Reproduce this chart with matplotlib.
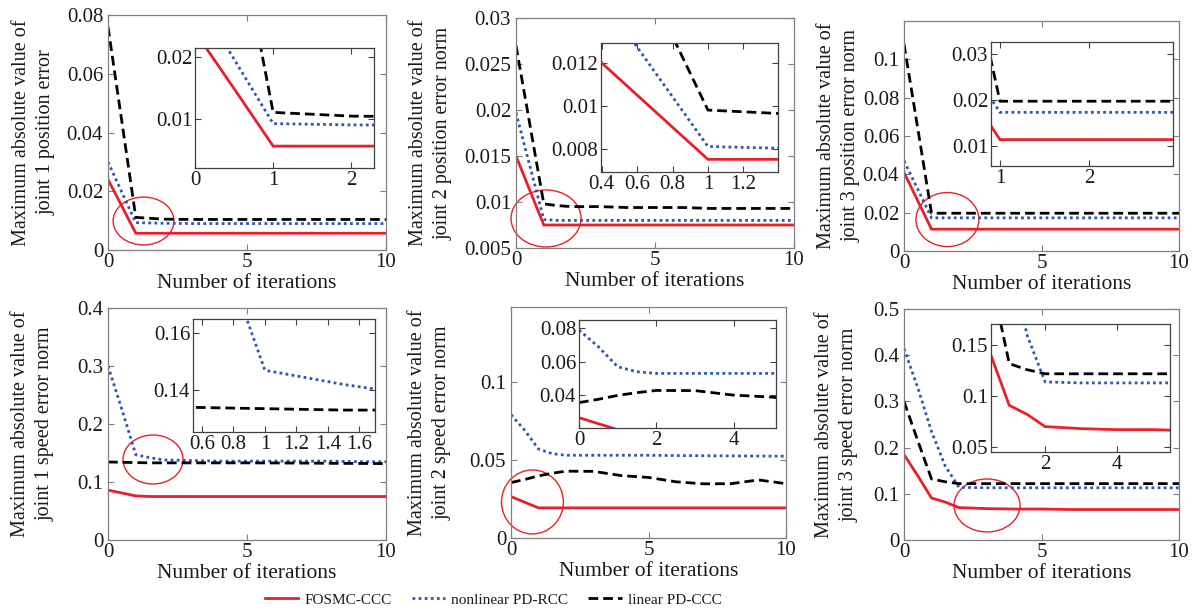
import matplotlib
matplotlib.use('Agg')
import matplotlib.pyplot as plt
from matplotlib.patches import Ellipse
from matplotlib.ticker import FuncFormatter

plt.rcParams['font.family'] = ['Liberation Serif', 'DejaVu Serif']

iters = [0, 0.5, 1, 1.5, 2, 3, 4, 5, 6, 7, 8, 9, 10]

# joint 1 position error
pos1_fosmc = [0.024, 0.0149, 0.0057, 0.0057, 0.0057, 0.0057, 0.0057, 0.0057, 0.0057, 0.0057, 0.0057, 0.0057, 0.0057]
pos1_nonlin = [0.030, 0.0196, 0.0093, 0.0092, 0.0091, 0.0090, 0.0090, 0.0090, 0.0090, 0.0090, 0.0090, 0.0090, 0.0090]
pos1_lin = [0.076, 0.0436, 0.0111, 0.0108, 0.0105, 0.0104, 0.0104, 0.0104, 0.0104, 0.0104, 0.0104, 0.0104, 0.0104]
# joint 2 position error norm
pos2_fosmc = [0.015, 0.01125, 0.0075, 0.0075, 0.0075, 0.0075, 0.0075, 0.0075, 0.0075, 0.0075, 0.0075, 0.0075, 0.0075]
pos2_nonlin = [0.0197, 0.0139, 0.0081, 0.0080, 0.0080, 0.0080, 0.0080, 0.0080, 0.0080, 0.0080, 0.0080, 0.0080, 0.0080]
pos2_lin = [0.027, 0.0184, 0.0098, 0.0096, 0.0095, 0.0095, 0.0094, 0.0094, 0.0094, 0.0093, 0.0093, 0.0093, 0.0093]
# joint 3 position error norm
pos3_fosmc = [0.041, 0.0262, 0.0114, 0.0114, 0.0114, 0.0114, 0.0114, 0.0114, 0.0114, 0.0114, 0.0114, 0.0114, 0.0114]
pos3_nonlin = [0.047, 0.0322, 0.0173, 0.0173, 0.0173, 0.0173, 0.0173, 0.0173, 0.0173, 0.0173, 0.0173, 0.0173, 0.0173]
pos3_lin = [0.108, 0.064, 0.0197, 0.0197, 0.0197, 0.0197, 0.0197, 0.0197, 0.0197, 0.0197, 0.0197, 0.0197, 0.0197]
# joint 1 speed error norm
spd1_fosmc = [0.086, 0.081, 0.076, 0.075, 0.075, 0.075, 0.075, 0.075, 0.075, 0.075, 0.075, 0.075, 0.075]
spd1_nonlin = [0.300, 0.225, 0.147, 0.142, 0.138, 0.137, 0.136, 0.136, 0.136, 0.136, 0.136, 0.135, 0.135]
spd1_lin = [0.1345, 0.134, 0.1335, 0.133, 0.133, 0.133, 0.133, 0.133, 0.1328, 0.1326, 0.1322, 0.132, 0.1318]
# joint 2 speed error norm
spd2_fosmc = [0.0265, 0.0229, 0.0193, 0.0193, 0.0193, 0.0193, 0.0193, 0.0193, 0.0193, 0.0193, 0.0193, 0.0193, 0.0193]
spd2_nonlin = [0.079, 0.069, 0.057, 0.054, 0.053, 0.053, 0.053, 0.053, 0.0528, 0.0527, 0.0526, 0.0525, 0.0524]
spd2_lin = [0.0355, 0.0375, 0.0398, 0.0415, 0.0428, 0.0427, 0.0400, 0.0388, 0.0360, 0.0347, 0.0348, 0.0372, 0.0348]
# joint 3 speed error norm
spd3_fosmc = [0.185, 0.139, 0.091, 0.082, 0.070, 0.068, 0.067, 0.067, 0.066, 0.066, 0.066, 0.066, 0.066]
spd3_nonlin = [0.414, 0.330, 0.235, 0.160, 0.114, 0.113, 0.113, 0.113, 0.113, 0.113, 0.113, 0.113, 0.113]
spd3_lin = [0.300, 0.215, 0.132, 0.126, 0.122, 0.122, 0.122, 0.122, 0.122, 0.122, 0.122, 0.122, 0.122]

series_names = ['FOSMC-CCC', 'nonlinear PD-RCC', 'linear PD-CCC']

ylabels = ['Maximum absolute value of\njoint 1 position error',
           'Maximum absolute value of\njoint 2 position error norm',
           'Maximum absolute value of\njoint 3 position error norm',
           'Maximum absolute value of\njoint 1 speed error norm',
           'Maximum absolute value of\njoint 2 speed error norm',
           'Maximum absolute value of\njoint 3 speed error norm']

data = [(pos1_fosmc, pos1_nonlin, pos1_lin),
        (pos2_fosmc, pos2_nonlin, pos2_lin),
        (pos3_fosmc, pos3_nonlin, pos3_lin),
        (spd1_fosmc, spd1_nonlin, spd1_lin),
        (spd2_fosmc, spd2_nonlin, spd2_lin),
        (spd3_fosmc, spd3_nonlin, spd3_lin)]

ylims = [(0, 0.08), (0.005, 0.03), (0, 0.12), (0, 0.4), (0, 0.148), (0, 0.5)]
yticks = [[0, 0.02, 0.04, 0.06, 0.08],
          [0.005, 0.01, 0.015, 0.02, 0.025, 0.03],
          [0, 0.02, 0.04, 0.06, 0.08, 0.1],
          [0, 0.1, 0.2, 0.3, 0.4],
          [0, 0.05, 0.1],
          [0, 0.1, 0.2, 0.3, 0.4, 0.5]]
xticks = [0, 5, 10]

inset_xlims = [(0, 2.29), (0.396, 1.396), (0.9, 2.94), (0.543, 1.70), (0, 5.1), (0.49, 5.49)]
inset_ylims = [(0.0022, 0.0214), (0.00691, 0.01293), (0.0057, 0.0325),
               (0.1253, 0.165), (0.0203, 0.085), (0.045, 0.171)]
inset_xticks = [[0, 1, 2], [0.4, 0.6, 0.8, 1, 1.2], [1, 2],
                [0.6, 0.8, 1, 1.2, 1.4, 1.6], [0, 2, 4], [2, 4]]
inset_yticks = [[0.01, 0.02], [0.008, 0.01, 0.012], [0.01, 0.02, 0.03],
                [0.14, 0.16], [0.04, 0.06, 0.08], [0.05, 0.1, 0.15]]

# red highlight ellipses (centre x, centre y, width, height) in data units
circles = [(1.28, 0.00987, 2.19, 0.0163), (1.08, 0.00821, 2.52, 0.0062),
           (1.58, 0.0164, 2.29, 0.0282), (1.62, 0.1388, 2.16, 0.0845),
           (0.78, 0.0231, 2.25, 0.041), (3.02, 0.0747, 2.4, 0.1147)]

# axes boxes in pixels: left, top, right, bottom
main_boxes = [(108, 15, 386, 250), (516, 18, 794, 248), (904, 21, 1179, 251),
              (108, 308, 386, 540), (511, 307, 786, 538), (904, 309, 1179, 540)]
inset_boxes = [(195, 48, 374, 168), (601, 43, 778, 172), (991, 42, 1173, 166),
               (193, 319, 375, 432), (579, 320, 776, 428), (991, 324, 1170, 452)]
label_x = [-0.266, -0.306, -0.236, -0.27, -0.295, -0.244]

W, H = 1197, 614
red = '#e8202a'
blue = '#2f55b0'
txt = '#1a1a1a'
fmt = FuncFormatter(lambda v, p: '%g' % v)


def rect(box):
    l, t, r, b = box
    return [l / W, 1 - b / H, (r - l) / W, (b - t) / H]


def draw_lines(ax, ser):
    f, n, l = ser
    h1, = ax.plot(iters, f, color=red, lw=2.0, solid_joinstyle='miter')
    h2, = ax.plot(iters, n, color=blue, lw=2.0, linestyle=(0, (1, 1.2)))
    h3, = ax.plot(iters, l, color='k', lw=2.0, linestyle=(0, (3.5, 1.8)))
    return [h1, h2, h3]


fig = plt.figure(figsize=(W / 100, H / 100), dpi=100)

handles = None
for i in range(6):
    ax = fig.add_axes(rect(main_boxes[i]))
    handles = draw_lines(ax, data[i])
    ax.set_xlim(0, 10)
    ax.set_ylim(*ylims[i])
    ax.set_xticks(xticks)
    ax.set_yticks(yticks[i])
    ax.xaxis.set_major_formatter(fmt)
    ax.yaxis.set_major_formatter(fmt)
    ax.tick_params(direction='in', top=True, right=True, length=4, width=0.8,
                   color='#808080', labelcolor=txt, labelsize=15)
    ax.tick_params(axis='x', pad=2)
    ax.tick_params(axis='y', pad=3.5)
    for s in ax.spines.values():
        s.set_color('#808080')
        s.set_linewidth(0.9)
    ax.set_xlabel('Number of iterations', fontsize=15.5, color=txt, labelpad=1.5)
    ax.set_ylabel(ylabels[i], fontsize=14.5, color=txt, linespacing=1.4, va='center')
    ax.yaxis.set_label_coords(label_x[i], 0.5)
    cx, cy, cw, chh = circles[i]
    ax.add_patch(Ellipse((cx, cy), cw, chh, fill=False, ec=red, lw=1.0, clip_on=False))

    ins = fig.add_axes(rect(inset_boxes[i]))
    draw_lines(ins, data[i])
    ins.set_xlim(*inset_xlims[i])
    ins.set_ylim(*inset_ylims[i])
    ins.set_xticks(inset_xticks[i])
    ins.set_yticks(inset_yticks[i])
    ins.xaxis.set_major_formatter(fmt)
    ins.yaxis.set_major_formatter(fmt)
    ins.tick_params(direction='in', top=True, right=True, length=4, width=0.8,
                    color='#404040', labelcolor=txt, labelsize=15, pad=2)
    for s in ins.spines.values():
        s.set_color('#404040')
        s.set_linewidth(0.9)

fig.legend(handles, series_names, loc='center', bbox_to_anchor=(0.412, 0.023),
           ncol=3, frameon=False, fontsize=11, handlelength=2.2,
           columnspacing=1.3, handletextpad=0.4, labelcolor=txt)

fig.savefig('out.png', dpi=100)
